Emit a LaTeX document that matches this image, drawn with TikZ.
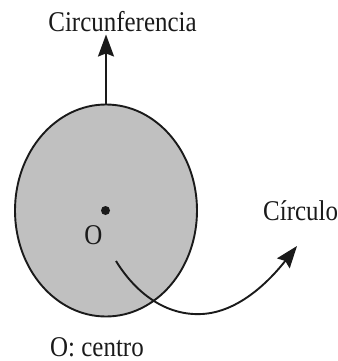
\documentclass[tikz,border=0pt]{standalone}
\usepackage{fontspec}
\setmainfont{Liberation Serif}
\usetikzlibrary{arrows.meta, shapes.geometric}
\definecolor{discgray}{HTML}{C0C0C0}
\definecolor{inkblack}{HTML}{1A1A1A}
% narrow, tall lettering as in the drawing
\newcommand{\talltext}[1]{\scalebox{0.96}[1.1]{#1}}

\begin{document}
\begin{tikzpicture}[
    x=1pt, y=-1pt,
    font=\fontsize{26}{30}\selectfont,
    text=inkblack,
    disc/.style={
        ellipse, draw=inkblack, fill=discgray, line width=1.9pt,
        minimum width=182pt, minimum height=212pt, inner sep=0pt,
    },
    centredot/.style={
        circle, fill=inkblack, minimum size=9pt, inner sep=0pt,
    },
    lbl/.style={inner sep=0pt, anchor=base},
    arr/.style={-{Stealth[length=22pt, width=16pt, inset=3pt]}, line width=1.9pt, color=inkblack},
]
\useasboundingbox (0,0) rectangle (337,361);

% Disc and centre
\node[disc] (disc) at (106,210.5) {};
\node[centredot] (centre) at (105.5,210.5) {};
\node[lbl] (o) at (93.5,244) {\talltext{O}};

% Labels
\node[lbl] (circunf) at (122.5,32) {\talltext{Circunferencia}};
\node[lbl, anchor=base west] (circulo) at (263,220) {\talltext{Círculo}};
\node[lbl, anchor=base west] (centro) at (50,356) {\talltext{O: centro}};

% Arrow to the boundary name
\draw[arr, shorten >=2pt] (disc.north) -- (circunf.south -| disc.north);

% Curved arrow to the area name
\coordinate (sweep start) at (116,261);
\coordinate (sweep end) at (297,246);
\draw[arr] (sweep start) .. controls (135,292) and (165,316) .. (202,314)
    .. controls (240,312) and (271,279) .. (sweep end);

\end{tikzpicture}
\end{document}
